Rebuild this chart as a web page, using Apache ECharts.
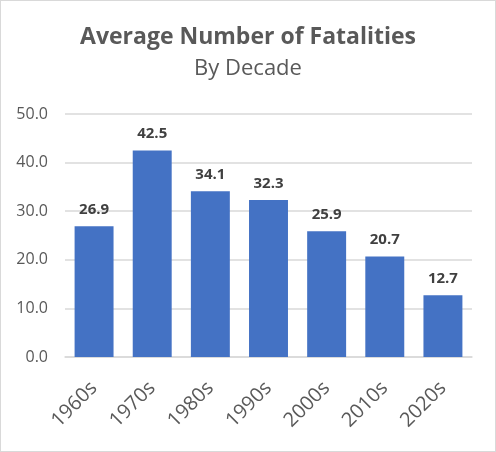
<!DOCTYPE html>
<html>
<head>
<meta charset="utf-8">
<script src="https://cdn.jsdelivr.net/npm/echarts@6/dist/echarts.min.js"></script>
<style>
  html, body { margin: 0; padding: 0; background: #fff; }
  #echarts { width: 494px; height: 450px; border: 1px solid #d9d9d9; }
</style>
</head>
<body>
<div id="echarts"></div>
<script>
var myChart = echarts.init(document.getElementById('echarts'));
var decades = ['1960s', '1970s', '1980s', '1990s', '2000s', '2010s', '2020s'];
var fatalities = [26.9, 42.5, 34.1, 32.3, 25.9, 20.7, 12.7];
var textColor = '#595959';
var font = '"Open Sans", sans-serif';

var option = {
    title: {
        text: 'Average Number of Fatalities',
        subtext: 'By Decade',
        left: 'center',
        top: 20,
        itemGap: 9,
        textStyle: { fontFamily: font, fontSize: 23, fontWeight: 'bold', color: textColor },
        subtextStyle: { fontFamily: font, fontSize: 22, color: textColor }
    },
    grid: { left: 64, right: 23, top: 113, bottom: 94, containLabel: false },
    xAxis: {
        type: 'category',
        data: decades,
        axisTick: { show: false },
        axisLine: { lineStyle: { color: '#d9d9d9', width: 1.5 } },
        axisLabel: { rotate: 45, color: textColor, fontFamily: font, fontSize: 20, margin: 28 }
    },
    yAxis: {
        type: 'value',
        min: 0,
        max: 50,
        interval: 10,
        axisLabel: {
            color: textColor, fontFamily: font, fontSize: 16, margin: 17,
            formatter: function (v) { return v.toFixed(1); }
        },
        splitLine: { lineStyle: { color: '#d9d9d9', width: 1.5 } }
    },
    series: [{
        type: 'bar',
        data: fatalities,
        barWidth: '67%',
        itemStyle: { color: '#4472C4' },
        label: {
            show: true,
            position: 'top',
            distance: 9,
            color: '#404040',
            fontFamily: font,
            fontSize: 15,
            fontWeight: 'bold',
            formatter: function (p) { return p.value.toFixed(1); }
        }
    }],
    animation: false
};
myChart.setOption(option);
</script>
</body>
</html>
